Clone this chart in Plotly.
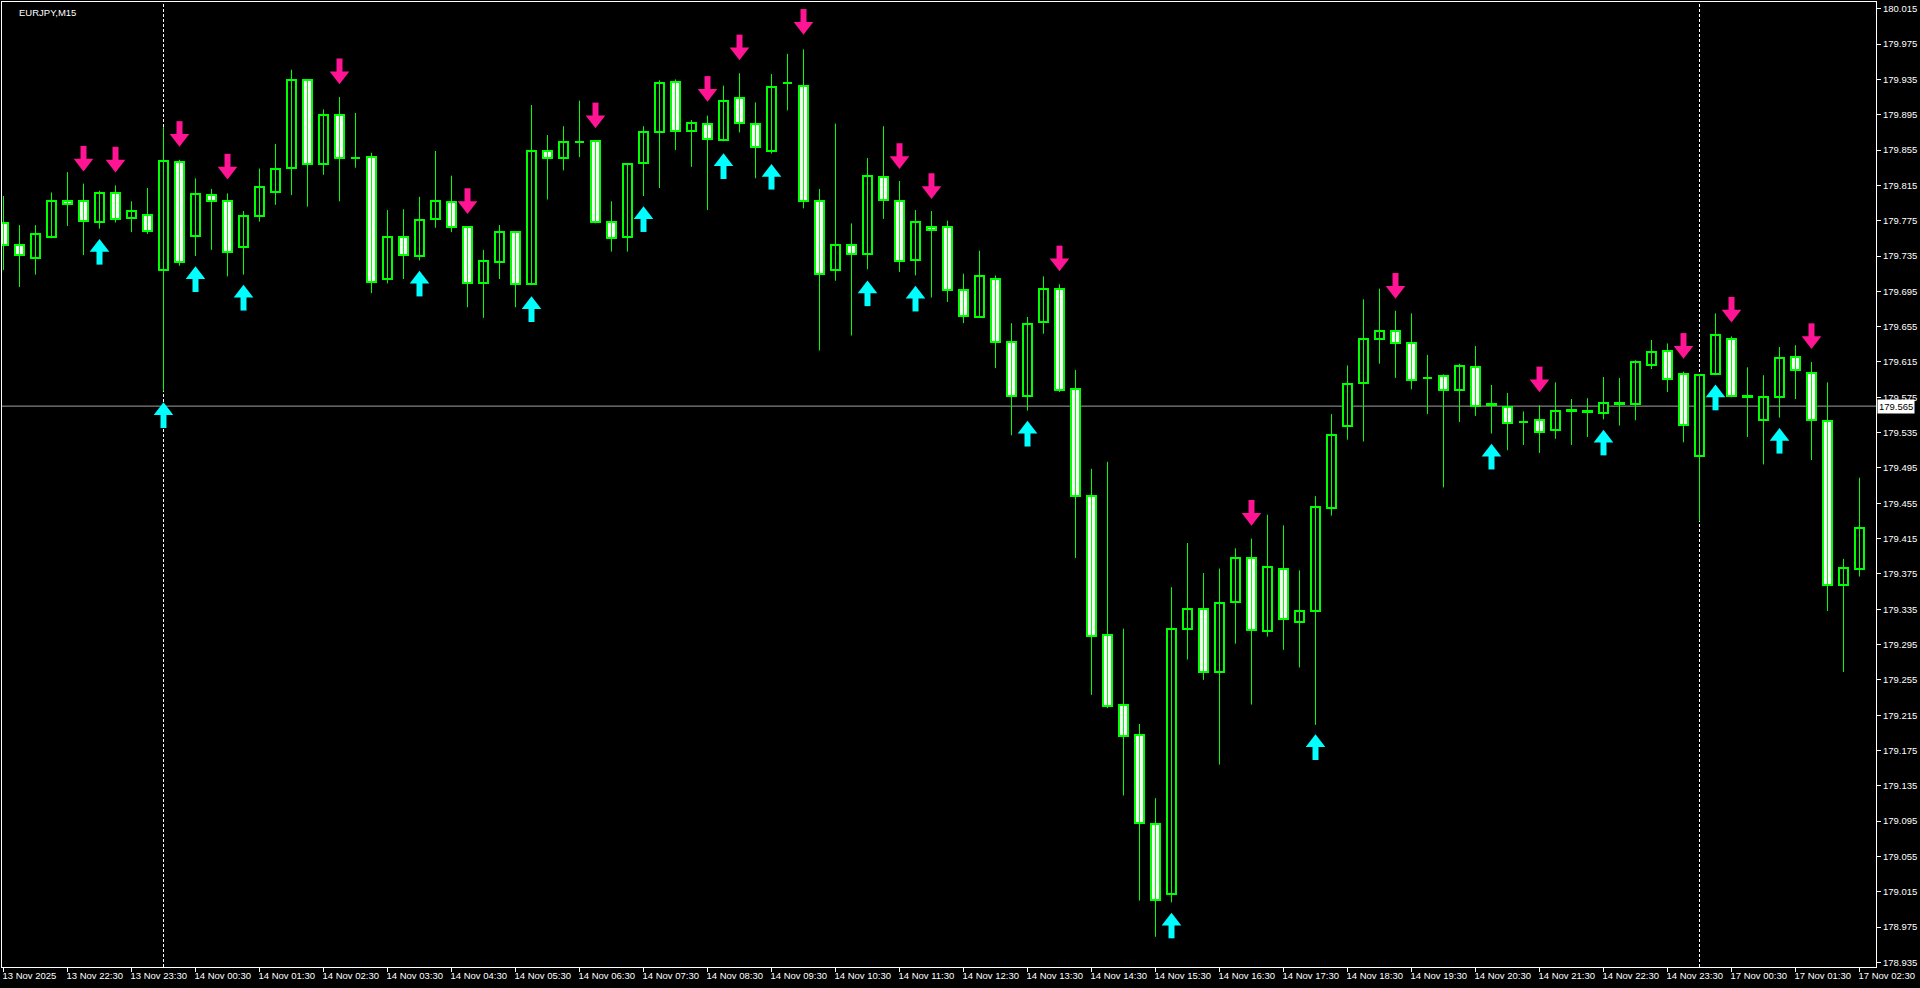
import pandas as pd
import plotly.graph_objects as go

# ---------------- data ----------------
symbol_label = "EURJPY,M15"

times = list(pd.date_range("2025-11-13 21:30", "2025-11-14 23:45", freq="15min")) + \
        list(pd.date_range("2025-11-17 00:00", "2025-11-17 02:30", freq="15min"))

opens = [179.772, 179.748, 179.733, 179.756, 179.797, 179.797, 179.773, 179.806, 179.778, 179.782,
         179.719, 179.842, 179.758, 179.804, 179.797, 179.745, 179.780, 179.808, 179.835, 179.934,
         179.839, 179.895, 179.846, 179.847, 179.709, 179.757, 179.735, 179.777, 179.796, 179.768,
         179.705, 179.728, 179.762, 179.703, 179.854, 179.846, 179.864, 179.865, 179.773, 179.756,
         179.840, 179.875, 179.932, 179.877, 179.885, 179.866, 179.914, 179.884, 179.854, 179.931,
         179.928, 179.797, 179.719, 179.748, 179.737, 179.825, 179.797, 179.731, 179.768, 179.768,
         179.697, 179.666, 179.709, 179.638, 179.577, 179.660, 179.698, 179.584, 179.463, 179.306,
         179.226, 179.192, 179.092, 179.012, 179.313, 179.335, 179.264, 179.343, 179.393, 179.310,
         179.381, 179.321, 179.333, 179.450, 179.543, 179.591, 179.641, 179.650, 179.636, 179.597,
         179.599, 179.583, 179.609, 179.567, 179.564, 179.547, 179.549, 179.538, 179.561, 179.559,
         179.557, 179.569, 179.567, 179.612, 179.627, 179.601, 179.509, 179.601, 179.641, 179.576,
         179.549, 179.575, 179.621, 179.603, 179.548, 179.362, 179.381]
highs = [179.803, 179.770, 179.770, 179.807, 179.830, 179.817, 179.809, 179.815, 179.797, 179.812,
         179.881, 179.844, 179.823, 179.811, 179.806, 179.786, 179.834, 179.862, 179.946, 179.935,
         179.901, 179.915, 179.897, 179.852, 179.787, 179.788, 179.802, 179.854, 179.826, 179.768,
         179.742, 179.770, 179.763, 179.906, 179.872, 179.882, 179.911, 179.865, 179.797, 179.840,
         179.882, 179.934, 179.935, 179.889, 179.894, 179.928, 179.942, 179.909, 179.941, 179.964,
         179.969, 179.811, 179.885, 179.772, 179.846, 179.882, 179.820, 179.787, 179.786, 179.775,
         179.715, 179.741, 179.713, 179.659, 179.666, 179.712, 179.703, 179.606, 179.494, 179.502,
         179.313, 179.205, 179.121, 179.360, 179.410, 179.376, 179.381, 179.404, 179.415, 179.442,
         179.430, 179.379, 179.463, 179.556, 179.611, 179.686, 179.698, 179.673, 179.670, 179.623,
         179.601, 179.613, 179.633, 179.589, 179.580, 179.559, 179.566, 179.592, 179.573, 179.574,
         179.598, 179.597, 179.617, 179.640, 179.636, 179.604, 179.601, 179.670, 179.644, 179.609,
         179.600, 179.632, 179.634, 179.615, 179.592, 179.392, 179.484]
lows = [179.719, 179.700, 179.714, 179.755, 179.769, 179.736, 179.766, 179.773, 179.762, 179.760,
        179.582, 179.724, 179.735, 179.742, 179.712, 179.714, 179.774, 179.793, 179.804, 179.791,
        179.827, 179.797, 179.835, 179.693, 179.704, 179.709, 179.730, 179.767, 179.762, 179.677,
        179.665, 179.709, 179.677, 179.702, 179.799, 179.832, 179.847, 179.772, 179.740, 179.740,
        179.803, 179.812, 179.855, 179.836, 179.787, 179.865, 179.875, 179.823, 179.851, 179.900,
        179.789, 179.628, 179.707, 179.645, 179.720, 179.777, 179.717, 179.713, 179.688, 179.683,
        179.659, 179.666, 179.608, 179.532, 179.560, 179.647, 179.581, 179.393, 179.238, 179.223,
        179.124, 179.005, 178.964, 179.003, 179.278, 179.255, 179.159, 179.296, 179.227, 179.304,
        179.289, 179.269, 179.204, 179.441, 179.527, 179.525, 179.613, 179.597, 179.584, 179.556,
        179.473, 179.547, 179.554, 179.534, 179.515, 179.521, 179.512, 179.528, 179.521, 179.530,
        179.550, 179.543, 179.549, 179.607, 179.581, 179.524, 179.435, 179.600, 179.575, 179.530,
        179.499, 179.552, 179.573, 179.504, 179.333, 179.264, 179.372]
closes = [179.748, 179.736, 179.760, 179.797, 179.794, 179.775, 179.806, 179.777, 179.786, 179.763,
          179.843, 179.728, 179.805, 179.797, 179.740, 179.780, 179.813, 179.834, 179.934, 179.839,
          179.895, 179.846, 179.846, 179.706, 179.757, 179.736, 179.776, 179.797, 179.768, 179.704,
          179.729, 179.762, 179.703, 179.854, 179.846, 179.864, 179.864, 179.773, 179.755, 179.839,
          179.875, 179.931, 179.877, 179.886, 179.867, 179.911, 179.886, 179.858, 179.926, 179.931,
          179.797, 179.715, 179.747, 179.737, 179.826, 179.798, 179.729, 179.773, 179.764, 179.696,
          179.667, 179.712, 179.638, 179.577, 179.658, 179.698, 179.583, 179.463, 179.305, 179.225,
          179.191, 179.093, 179.006, 179.313, 179.335, 179.264, 179.342, 179.393, 179.311, 179.383,
          179.324, 179.333, 179.451, 179.532, 179.590, 179.641, 179.650, 179.636, 179.595, 179.597,
          179.583, 179.610, 179.565, 179.567, 179.546, 179.547, 179.536, 179.559, 179.559, 179.559,
          179.569, 179.567, 179.615, 179.626, 179.596, 179.544, 179.600, 179.646, 179.576, 179.576,
          179.575, 179.620, 179.606, 179.549, 179.362, 179.382, 179.427]

# signal arrows: (candle index, arrow centre price)
sell_idx = [5, 7, 11, 14, 21, 29, 37, 44, 46, 50, 56, 58, 66, 78, 87, 96, 105, 108, 113]
sell_price = [179.844, 179.843, 179.872, 179.835, 179.943, 179.796, 179.893, 179.923, 179.970, 179.999,
              179.847, 179.813, 179.731, 179.443, 179.700, 179.594, 179.632, 179.673, 179.643]
buy_idx = [6, 10, 12, 15, 26, 33, 40, 45, 48, 54, 57, 64, 73, 82, 93, 100, 107, 111]
buy_price = [179.741, 179.556, 179.710, 179.689, 179.705, 179.676, 179.778, 179.838, 179.826, 179.694,
             179.688, 179.535, 178.978, 179.180, 179.509, 179.525, 179.576, 179.527]

bid_price = 179.565

tick_times = ["2025-11-13 21:30", "2025-11-13 22:30", "2025-11-13 23:30"] + \
             [f"2025-11-14 {h:02d}:30" for h in range(24)] + \
             ["2025-11-17 00:30", "2025-11-17 01:30", "2025-11-17 02:30"]
tick_text = ["13 Nov 2025", "13 Nov 22:30", "13 Nov 23:30"] + \
            [f"14 Nov {h:02d}:30" for h in range(24)] + \
            ["17 Nov 00:30", "17 Nov 01:30", "17 Nov 02:30"]

# ---------------- styling / geometry ----------------
W, H = 1920, 988
M_L, M_R, M_T, M_B = 2, 44, 2, 21
BAR_PX = 16.0
plot_w = W - M_L - M_R
plot_h = H - M_T - M_B
x0 = -1.5 / BAR_PX
x1 = x0 + plot_w / BAR_PX
y0, y1 = 178.9298, 180.0227
ppx = (y1 - y0) / plot_h  # price per pixel

GREEN = "#00FF00"
BG = "#000000"
FONT = "Liberation Sans, Arial, sans-serif"
FS = 9.5

idx = list(range(len(times)))
stamp = [t.strftime("%Y-%m-%d %H:%M") for t in times]
tickvals = [stamp.index(t) for t in tick_times]

fig = go.Figure()

# wicks
wx, wy = [], []
for i, h, l in zip(idx, highs, lows):
    wx += [i, i, None]
    wy += [l, h, None]
fig.add_trace(go.Scatter(x=wx, y=wy, mode="lines", line=dict(color=GREEN, width=1),
                         hoverinfo="skip", showlegend=False))

# bodies
doji_h = 0.0006
base, height, fill = [], [], []
for o, c in zip(opens, closes):
    d = abs(c - o)
    if d < doji_h:
        base.append((o + c) / 2 - doji_h / 2)
        height.append(doji_h)
    else:
        base.append(min(o, c))
        height.append(d)
    fill.append(BG if c > o else "#FFFFFF")
fig.add_trace(go.Bar(x=idx, y=height, base=base, width=9 / BAR_PX,
                     marker=dict(color=fill, opacity=1, line=dict(color=GREEN, width=2)),
                     hoverinfo="skip", showlegend=False))

# arrows (head + stem markers)
HEAD_OFF = 3.3 * ppx
STEM_OFF = 5.5 * ppx
UP_C, DN_C = "#00FFFF", "#FF1493"
fig.add_trace(go.Scatter(x=buy_idx, y=[p - STEM_OFF for p in buy_price], mode="markers",
                         marker=dict(symbol="line-ns", size=12, color=UP_C,
                                     line=dict(color=UP_C, width=6)),
                         hoverinfo="skip", showlegend=False))
fig.add_trace(go.Scatter(x=buy_idx, y=[p + HEAD_OFF for p in buy_price], mode="markers",
                         marker=dict(symbol="triangle-up", size=17, color=UP_C, line=dict(width=0)),
                         hoverinfo="skip", showlegend=False))
fig.add_trace(go.Scatter(x=sell_idx, y=[p + STEM_OFF for p in sell_price], mode="markers",
                         marker=dict(symbol="line-ns", size=12, color=DN_C,
                                     line=dict(color=DN_C, width=6)),
                         hoverinfo="skip", showlegend=False))
fig.add_trace(go.Scatter(x=sell_idx, y=[p - HEAD_OFF for p in sell_price], mode="markers",
                         marker=dict(symbol="triangle-down", size=17, color=DN_C, line=dict(width=0)),
                         hoverinfo="skip", showlegend=False))

shapes = []
# period separators at day change
for i in idx[1:]:
    if times[i].date() != times[i - 1].date():
        shapes.append(dict(type="line", xref="x", yref="paper", x0=i, x1=i, y0=0, y1=1,
                           line=dict(color="#FFFFFF", width=1, dash="3px,2px"), layer="below"))
# bid line
shapes.append(dict(type="line", xref="paper", yref="y", x0=0, x1=1, y0=bid_price, y1=bid_price,
                   line=dict(color="#A0A0A0", width=1), layer="below"))

annotations = [
    dict(text=symbol_label, xref="paper", yref="paper", x=0, y=1, xanchor="left", yanchor="top",
         xshift=15, yshift=-3, showarrow=False, font=dict(family=FONT, size=FS, color="#FFFFFF")),
    dict(text=f"{bid_price:.3f}", xref="paper", yref="y", x=1, y=bid_price, xanchor="left",
         yanchor="middle", xshift=1, showarrow=False, bgcolor="#FFFFFF", borderpad=1,
         font=dict(family=FONT, size=FS, color="#000000")),
]

fig.update_layout(
    width=W, height=H, autosize=False,
    margin=dict(l=M_L, r=M_R, t=M_T, b=M_B, pad=0),
    paper_bgcolor=BG, plot_bgcolor=BG,
    barmode="overlay", bargap=0,
    showlegend=False, hovermode=False,
    font=dict(family=FONT, size=FS, color="#FFFFFF"),
    shapes=shapes, annotations=annotations,
    xaxis=dict(range=[x0, x1], showgrid=False, zeroline=False, showline=True, linecolor="#FFFFFF",
               linewidth=1, mirror=True, ticks="outside", ticklen=4, tickcolor="#FFFFFF",
               tickvals=tickvals, ticktext=tick_text, ticklabelposition="outside right",
               ticklabelshift=-2, tickangle=0,
               tickfont=dict(family=FONT, size=FS, color="#FFFFFF"), fixedrange=True),
    yaxis=dict(range=[y0, y1], side="right", showgrid=False, zeroline=False, showline=True,
               linecolor="#FFFFFF", linewidth=1, mirror=True, ticks="outside", ticklen=4,
               tickcolor="#FFFFFF", tick0=178.935, dtick=0.04, tickformat=".3f",
               tickfont=dict(family=FONT, size=FS, color="#FFFFFF"), fixedrange=True),
)

fig.write_html("out.html", config={"displayModeBar": False},
               post_script="document.body.style.margin='0';document.body.style.background='#000';")
